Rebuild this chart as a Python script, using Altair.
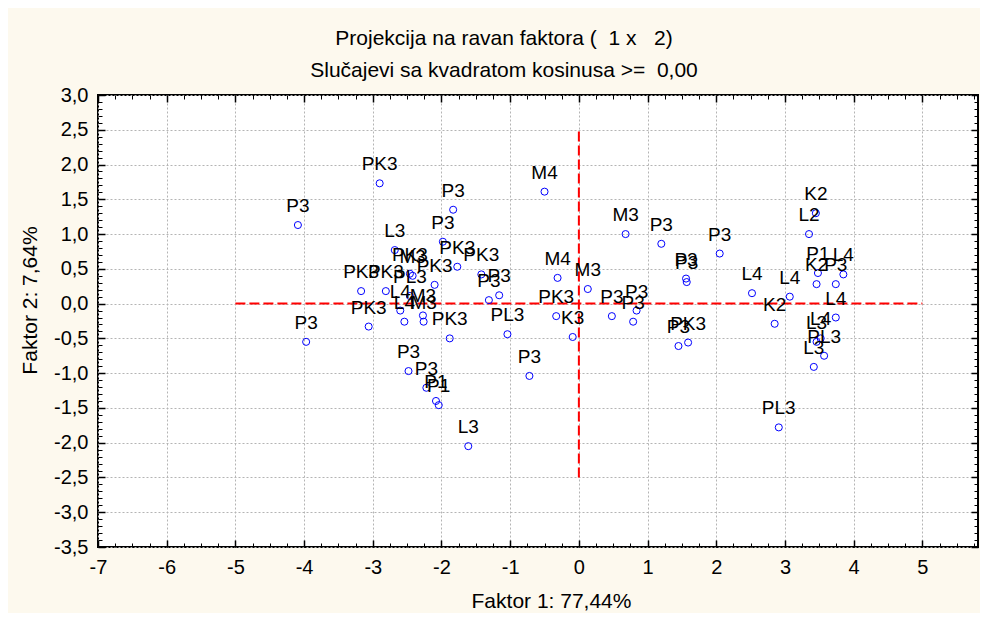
import altair as alt
import pandas as pd

# ---- data (Faktor 1, Faktor 2) ----
labels = [
    "PK3", "P3", "P3", "P3", "L3", "PK3", "PK3", "PK3", "M3", "PK3",
    "PK3", "PK3", "PL3", "P3", "P3", "L4", "L4", "M3", "M3", "PK3",
    "P3", "PK3", "PL3", "P3", "P3", "P1", "P1", "L3", "P3",
    "M4", "M3", "P3", "P3", "M4", "M3", "P3", "P3", "PK3", "K3",
    "P3", "P3", "P3", "P3", "PK3",
    "K2", "L2", "P1", "L4", "K2", "P3", "L4", "L4", "K2", "L4",
    "L3", "L4", "PL3", "L3", "PL3",
]
faktor1 = [
    -2.90, -4.09, -1.83, -1.98, -2.68, -1.77, -1.42, -2.46, -2.42, -2.10,
    -3.17, -2.81, -2.46, -1.31, -1.16, -2.60, -2.54, -2.27, -2.26, -3.06,
    -3.97, -1.88, -1.04, -2.48, -2.22, -2.08, -2.04, -1.61, -0.72,
    -0.50, 0.68, 1.20, 2.05, -0.31, 0.13, 1.56, 1.57, -0.33, -0.09,
    0.48, 0.84, 0.79, 1.45, 1.59,
    3.45, 3.35, 3.48, 3.85, 3.46, 3.74, 2.52, 3.07, 2.85, 3.74,
    3.46, 3.52, 3.57, 3.42, 2.91,
]
faktor2 = [
    1.73, 1.13, 1.35, 0.89, 0.77, 0.53, 0.42, 0.43, 0.40, 0.27,
    0.18, 0.18, 0.11, 0.05, 0.12, -0.10, -0.26, -0.17, -0.26, -0.33,
    -0.55, -0.50, -0.44, -0.97, -1.21, -1.40, -1.46, -2.05, -1.04,
    1.61, 1.00, 0.86, 0.72, 0.37, 0.21, 0.36, 0.31, -0.18, -0.48,
    -0.18, -0.10, -0.26, -0.61, -0.56,
    1.30, 1.00, 0.44, 0.42, 0.28, 0.28, 0.15, 0.10, -0.29, -0.20,
    -0.55, -0.50, -0.75, -0.91, -1.78,
]

# axis ranges and ticks
x_domain = [-7, 5.81]
y_domain = [-3.5, 3.0]
x_major = [-7, -6, -5, -4, -3, -2, -1, 0, 1, 2, 3, 4, 5]
x_minor = [round(-7 + 0.25 * i, 2) for i in range(52)]
y_major = [-3.5, -3.0, -2.5, -2.0, -1.5, -1.0, -0.5, 0.0, 0.5, 1.0, 1.5, 2.0, 2.5, 3.0]
y_minor = [round(-3.5 + 0.1 * i, 2) for i in range(66)]

# red dashed reference lines (data coordinates)
h_ref = {"x": [-5], "x2": [5], "y": [0]}
v_ref = {"x": [0], "y": [-2.5], "y2": [2.5]}

FONT = "Liberation Sans"
W, H = 880, 452

df = pd.DataFrame({"label": labels, "f1": faktor1, "f2": faktor2})
xs = alt.Scale(domain=x_domain, nice=False, zero=False)
ys = alt.Scale(domain=y_domain, nice=False, zero=False)

x_lbl = "(datum.value < 0 ? '-' : '') + format(abs(datum.value), 'd')"
y_lbl = "(datum.value < 0 ? '-' : '') + replace(format(abs(datum.value), '.1f'), '.', ',')"

base = alt.Chart(df)

# labels + grid + titles
axis_main = base.mark_point(opacity=0).encode(
    x=alt.X("f1:Q", scale=xs, axis=alt.Axis(
        orient="bottom", values=x_major, grid=True, ticks=False, domain=False,
        labelExpr=x_lbl, labelFont=FONT, labelFontSize=20, labelColor="black",
        labelPadding=10, labelFlush=False, labelOverlap=False,
        gridColor="#b4b4b4", gridDash=[2, 2], gridWidth=1,
        title="Faktor 1: 77,44%", titleFont=FONT, titleFontSize=21,
        titleFontWeight="normal", titleColor="black",
        titleX=453, titleY=54, titleBaseline="middle", titleAlign="center")),
    y=alt.Y("f2:Q", scale=ys, axis=alt.Axis(
        orient="left", values=y_major, grid=True, ticks=False, domain=False,
        labelExpr=y_lbl, labelFont=FONT, labelFontSize=20, labelColor="black",
        labelPadding=10, labelFlush=False, labelOverlap=False,
        gridColor="#b4b4b4", gridDash=[2, 2], gridWidth=1,
        title="Faktor 2: 7,64%", titleFont=FONT, titleFontSize=21,
        titleFontWeight="normal", titleColor="black", titleAngle=270,
        titleX=-68, titleY=205, titleBaseline="middle", titleAlign="center")),
)


def tick_layer(xorient, yorient, xv, yv, size, width):
    ax = dict(ticks=True, tickSize=size, tickWidth=width, tickColor="black",
              labels=False, grid=False, domain=False, title=None, offset=-size)
    return base.mark_point(opacity=0).encode(
        x=alt.X("f1:Q", scale=xs, axis=alt.Axis(orient=xorient, values=xv, **ax)),
        y=alt.Y("f2:Q", scale=ys, axis=alt.Axis(orient=yorient, values=yv, **ax)),
    )


ticks_bl_major = tick_layer("bottom", "left", x_major, y_major, 7, 1.5)
ticks_bl_minor = tick_layer("bottom", "left", x_minor, y_minor, 4, 1)
ticks_tr_major = tick_layer("top", "right", x_major, y_major, 7, 1.5)
ticks_tr_minor = tick_layer("top", "right", x_minor, y_minor, 4, 1)

href = alt.Chart(pd.DataFrame(h_ref)).mark_rule(
    color="#ff0000", strokeWidth=2, strokeDash=[10, 4]).encode(
    x=alt.X("x:Q", scale=xs, axis=None), x2="x2:Q",
    y=alt.Y("y:Q", scale=ys, axis=None))
vref = alt.Chart(pd.DataFrame(v_ref)).mark_rule(
    color="#ff0000", strokeWidth=2, strokeDash=[10, 4]).encode(
    x=alt.X("x:Q", scale=xs, axis=None),
    y=alt.Y("y:Q", scale=ys, axis=None), y2="y2:Q")

points = base.mark_point(shape="circle", filled=False, color="#0000ff",
                         size=50, strokeWidth=1, opacity=1).encode(
    x=alt.X("f1:Q", scale=xs, axis=None),
    y=alt.Y("f2:Q", scale=ys, axis=None))

texts = base.mark_text(font=FONT, fontSize=19, color="black", dy=-19,
                       align="center", baseline="middle").encode(
    x=alt.X("f1:Q", scale=xs, axis=None),
    y=alt.Y("f2:Q", scale=ys, axis=None),
    text="label:N")

chart = alt.layer(
    axis_main, ticks_bl_major, ticks_bl_minor, ticks_tr_major, ticks_tr_minor,
    href, vref, points, texts,
).resolve_axis(x="independent", y="independent").properties(
    width=W, height=H,
    autosize=alt.AutoSizeParams(type="none"),
    padding={"left": 90, "top": 87, "right": 2, "bottom": 66},
    background="#fdf9ee",
    title=alt.Title(
        ["Projekcija na ravan faktora (\u00a0\u00a01 x\u00a0\u00a0\u00a02)",
         "Slu\u010dajevi sa kvadratom kosinusa >=\u00a0\u00a00,00"],
        font=FONT, fontSize=21, fontWeight="normal", color="black",
        lineHeight=32, anchor="middle", dx=-34, offset=4),
).configure_view(stroke="black", strokeWidth=2, fill="white")

chart.save("out.html", embed_options={"renderer": "svg", "actions": False})
